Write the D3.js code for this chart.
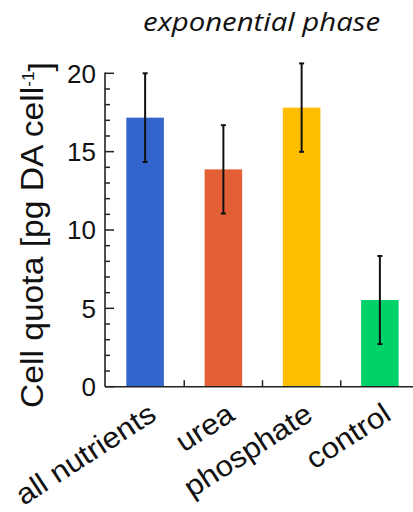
<!DOCTYPE html>
<html>
<head>
<meta charset="utf-8">
<script src="https://d3js.org/d3.v7.min.js"></script>
<style>
  body { margin: 0; background: #fff; }
  svg { display: block; }
  text { font-family: "Liberation Sans", Arial, Helvetica, sans-serif; fill: #111; }
</style>
</head>
<body>
<svg id="chart" width="413" height="512"></svg>
<script>
  // values
  const categories = ["all nutrients", "urea", "phosphate", "control"];
  const quota = [17.17, 13.87, 17.81, 5.53];
  const quotaErr = [2.83, 2.82, 2.82, 2.81];
  const barColors = ["#3366cc", "#e35f36", "#ffbe00", "#00d26a"];
  const majorTicks = [0, 5, 10, 15, 20];
  const minorTicks = d3.range(0, 21, 1);

  const svg = d3.select("#chart");

  const x = d3.scaleBand()
    .domain(categories)
    .range([106, 419])
    .paddingInner(0.52)
    .paddingOuter(0.26);

  const y = d3.scaleLinear()
    .domain([0, 20])
    .range([386.7, 73.3]);

  // bars
  svg.selectAll(".bar")
    .data(categories)
    .enter().append("rect")
    .attr("class", "bar")
    .attr("x", d => x(d))
    .attr("y", (d, i) => y(quota[i]))
    .attr("width", x.bandwidth())
    .attr("height", (d, i) => y(0) - y(quota[i]))
    .attr("fill", (d, i) => barColors[i]);

  // error bars
  const eb = svg.append("g").attr("stroke", "#111").attr("stroke-width", 2);
  categories.forEach((c, i) => {
    const cx = x(c) + x.bandwidth() / 2;
    eb.append("line")
      .attr("x1", cx).attr("x2", cx)
      .attr("y1", y(quota[i] - quotaErr[i])).attr("y2", y(quota[i] + quotaErr[i]));
    [quota[i] - quotaErr[i], quota[i] + quotaErr[i]].forEach(v => {
      eb.append("line")
        .attr("x1", cx - 2.5).attr("x2", cx + 2.5)
        .attr("y1", y(v)).attr("y2", y(v));
    });
  });

  // y axis, ticks point inward
  const axisX = 105;
  svg.selectAll(".ytick")
    .data(minorTicks)
    .enter().append("line")
    .attr("class", "ytick")
    .attr("x1", axisX)
    .attr("x2", d => axisX + (d % 5 === 0 ? 9 : 5))
    .attr("y1", d => y(d)).attr("y2", d => y(d))
    .attr("stroke", "#222").attr("stroke-width", 1.5);
  svg.append("line")
    .attr("x1", axisX).attr("x2", axisX)
    .attr("y1", y(20) - 0.7).attr("y2", y(0))
    .attr("stroke", "#222").attr("stroke-width", 1.6);

  svg.selectAll(".ylab")
    .data(majorTicks)
    .enter().append("text")
    .attr("class", "ylab")
    .attr("x", 96)
    .attr("y", d => y(d))
    .attr("dy", "0.36em")
    .attr("text-anchor", "end")
    .style("font-size", "26px")
    .text(d => d);

  // x axis
  const xAxisY = y(0);
  svg.append("line")
    .attr("x1", axisX).attr("x2", 419)
    .attr("y1", xAxisY).attr("y2", xAxisY)
    .attr("stroke", "#222").attr("stroke-width", 1.6);
  const step = x.step();
  svg.selectAll(".xtick")
    .data(categories.slice(1))
    .enter().append("line")
    .attr("class", "xtick")
    .attr("x1", d => x(d) - step * 0.26).attr("x2", d => x(d) - step * 0.26)
    .attr("y1", xAxisY).attr("y2", xAxisY - 6.5)
    .attr("stroke", "#222").attr("stroke-width", 1.5);

  svg.selectAll(".xlab")
    .data(categories)
    .enter().append("text")
    .attr("class", "xlab")
    .attr("text-anchor", "end")
    .style("font-size", "29px")
    .attr("transform", d => {
      const cx = x(d) + x.bandwidth() / 2 + 13;
      return `translate(${cx},${xAxisY + 32}) rotate(-33) scale(1.08,1)`;
    })
    .text(d => d);

  // y axis title
  const ytitle = svg.append("text")
    .attr("text-anchor", "middle")
    .style("font-size", "31px");
  ytitle.append("tspan").text("Cell quota [pg DA cell");
  ytitle.append("tspan").attr("dy", "-0.55em").style("font-size", "16px").text("-1");
  ytitle.append("tspan").attr("dy", "0.55em").text("]");
  const ytLen = ytitle.node().getComputedTextLength();
  ytitle.attr("transform", `translate(43,235) rotate(-90) scale(${346 / ytLen},1)`);

  // title
  const title = svg.append("text")
    .attr("text-anchor", "middle")
    .style("font-family", "'Open Sans', sans-serif")
    .style("font-style", "italic")
    .style("font-size", "26px")
    .text("exponential phase");
  const tLen = title.node().getComputedTextLength();
  title.attr("transform", `translate(261.5,31) scale(${237 / tLen},1)`);
</script>
</body>
</html>
